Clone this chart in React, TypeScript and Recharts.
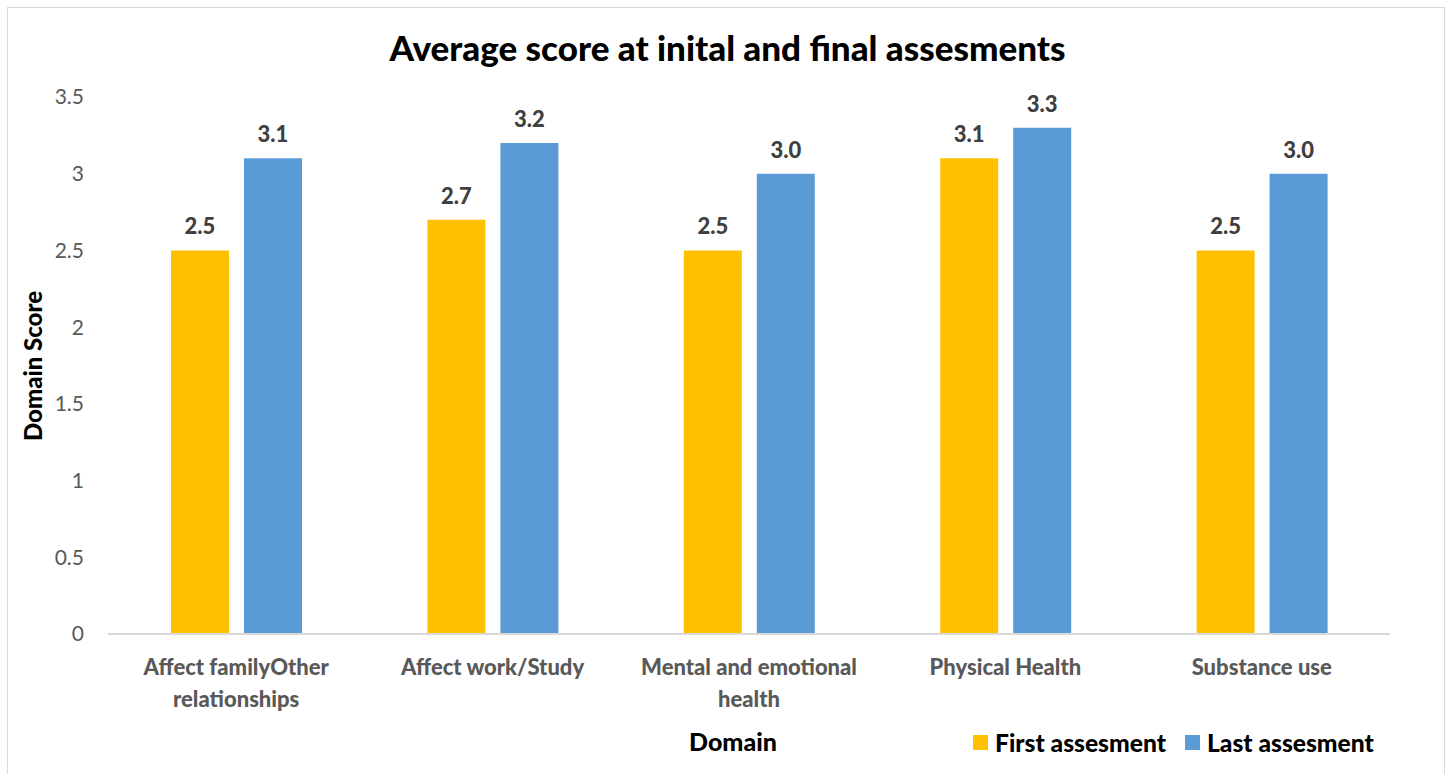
import React from "react";
import { BarChart, Bar, XAxis, YAxis, LabelList } from "recharts";

const categories = [
  "Affect familyOther relationships",
  "Affect work/Study",
  "Mental and emotional health",
  "Physical Health",
  "Substance use",
];
const firstAssessment = [2.5, 2.7, 2.5, 3.1, 2.5];
const lastAssessment = [3.1, 3.2, 3.0, 3.3, 3.0];
const yTicks = [0, 0.5, 1, 1.5, 2, 2.5, 3, 3.5];
const seriesNames = ["First assesment", "Last assesment"];
const seriesColors = ["#FFC000", "#5B9BD5"];

const data = categories.map((name, i) => ({
  name,
  first: firstAssessment[i],
  last: lastAssessment[i],
}));

const FONT = "Lato, 'Open Sans', sans-serif";
const TICK_FONT = `900 22px Lato`;

let ctx: CanvasRenderingContext2D | null = null;
function measure(s: string) {
  if (!ctx) ctx = document.createElement("canvas").getContext("2d");
  if (!ctx) return s.length * 10;
  ctx.font = TICK_FONT;
  return ctx.measureText(s).width;
}

function wrap(label: string, maxWidth: number) {
  const words = label.split(" ");
  const lines: string[] = [];
  let cur = "";
  words.forEach((w) => {
    const next = cur ? cur + " " + w : w;
    if (cur && measure(next) > maxWidth) {
      lines.push(cur);
      cur = w;
    } else {
      cur = next;
    }
  });
  if (cur) lines.push(cur);
  return lines;
}

function CategoryTick(props: any) {
  const { x, y, payload } = props;
  const lines = wrap(String(payload.value), 250);
  return (
    <text
      x={x}
      y={y + 39}
      textAnchor="middle"
      style={{ fontFamily: FONT, fontSize: 22, fontWeight: 900, fill: "#595959" }}
    >
      {lines.map((l, i) => (
        <tspan key={i} x={x} dy={i === 0 ? 0 : 32}>
          {l}
        </tspan>
      ))}
    </text>
  );
}

const labelStyle = { fontFamily: FONT, fontSize: 22, fontWeight: 900, fill: "#404040" };

export default function App() {
  return (
    <div style={{ position: "absolute", left: 0, top: 0, width: 1453, height: 774, background: "#fff", fontFamily: FONT }}>
      <div
        style={{
          position: "absolute",
          left: 7,
          top: 7,
          width: 1438,
          height: 767,
          border: "1px solid #d9d9d9",
          borderBottom: "none",
          boxSizing: "border-box",
        }}
      />
      <div
        style={{
          position: "absolute",
          left: 0,
          width: 1455,
          top: 26,
          textAlign: "center",
          fontSize: 35,
          fontWeight: 900,
          color: "#000",
        }}
      >
        Average score at inital and final assesments
      </div>
      <div style={{ position: "absolute", left: 0, top: 0 }}>
        <BarChart
          width={1453}
          height={774}
          data={data}
          margin={{ top: 97, right: 63, bottom: 60, left: 48 }}
          barCategoryGap={62}
          barGap={15}
        >
          <XAxis
            dataKey="name"
            interval={0}
            height={80}
            tickLine={false}
            tickSize={0}
            axisLine={{ stroke: "#d9d9d9", strokeWidth: 2 }}
            tick={<CategoryTick />}
          />
          <YAxis
            width={60}
            domain={[0, 3.5]}
            ticks={yTicks}
            axisLine={false}
            tickLine={false}
            tickSize={0}
            tickMargin={24}
            tick={{ fontFamily: FONT, fontSize: 21, fill: "#595959" }}
          />
          <Bar dataKey="first" name={seriesNames[0]} fill={seriesColors[0]} barSize={58} isAnimationActive={false}>
            <LabelList
              dataKey="first"
              position="top"
              offset={16}
              formatter={(v: any) => Number(v).toFixed(1)}
              style={labelStyle}
            />
          </Bar>
          <Bar dataKey="last" name={seriesNames[1]} fill={seriesColors[1]} barSize={58} isAnimationActive={false}>
            <LabelList
              dataKey="last"
              position="top"
              offset={16}
              formatter={(v: any) => Number(v).toFixed(1)}
              style={labelStyle}
            />
          </Bar>
        </BarChart>
      </div>
      <div
        style={{
          position: "absolute",
          left: 32,
          top: 366,
          transform: "translate(-50%, -50%) rotate(-90deg)",
          whiteSpace: "nowrap",
          fontSize: 24,
          fontWeight: 900,
          color: "#000",
        }}
      >
        Domain Score
      </div>
      <div
        style={{
          position: "absolute",
          left: 733,
          top: 741,
          transform: "translate(-50%, -50%)",
          fontSize: 25,
          fontWeight: 900,
          color: "#000",
        }}
      >
        Domain
      </div>
      <div style={{ position: "absolute", left: 973, top: 728, display: "flex", alignItems: "center" }}>
        {seriesNames.map((n, i) => (
          <div key={n} style={{ display: "flex", alignItems: "center", marginRight: 19 }}>
            <span style={{ display: "inline-block", width: 15, height: 15, background: seriesColors[i], marginRight: 7 }} />
            <span style={{ fontSize: 24.6, fontWeight: 900, color: "#000" }}>{n}</span>
          </div>
        ))}
      </div>
    </div>
  );
}
